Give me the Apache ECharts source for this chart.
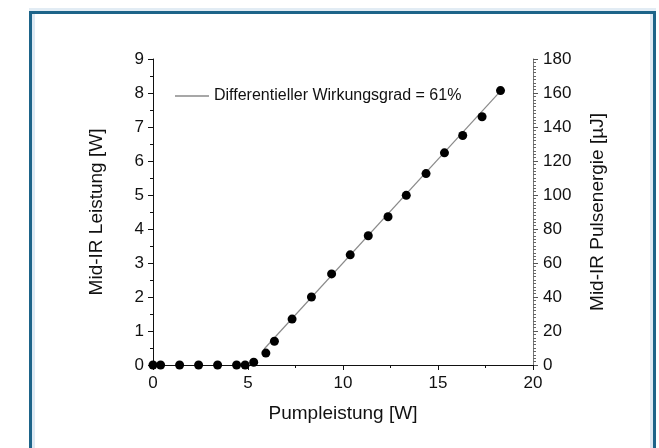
<!DOCTYPE html>
<html>
<head>
<meta charset="utf-8">
<script src="https://cdn.jsdelivr.net/npm/echarts@6/dist/echarts.min.js"></script>
<style>html,body{margin:0;padding:0;background:#fff;}#c{width:659px;height:448px;}</style>
</head>
<body>
<div id="c"></div>
<script>
// Measured data: Pumpleistung [W] vs Mid-IR Leistung [W]
var pumpW = [0.0, 0.4, 1.4, 2.4, 3.4, 4.4, 4.85, 5.3, 5.94, 6.39, 7.32, 8.34, 9.40, 10.38, 11.33, 12.37, 13.33, 14.37, 15.34, 16.30, 17.32, 18.29];
var midIrW = [0.0, 0.0, 0.0, 0.0, 0.0, 0.0, 0.0, 0.08, 0.35, 0.70, 1.35, 2.0, 2.68, 3.24, 3.80, 4.36, 4.99, 5.63, 6.24, 6.75, 7.30, 8.07];
// Linear fit (differential efficiency 61%) endpoints
var fitX = [5.85, 18.3];
var fitY = [0.47, 8.06];
var legendName = 'Differentieller Wirkungsgrad = 61%';
var xTitle = 'Pumpleistung [W]';
var yLeftTitle = 'Mid-IR Leistung [W]';
var yRightTitle = 'Mid-IR Pulsenergie [\u00b5J]';

var font = "'Liberation Sans', Arial, sans-serif";
var chart = echarts.init(document.getElementById('c'), null, {renderer: 'canvas'});
var scatterData = pumpW.map(function (x, i) { return [x, midIrW[i]]; });
var fitData = fitX.map(function (x, i) { return [x, fitY[i]]; });

chart.setOption({
  animation: false,
  backgroundColor: '#fff',
  graphic: [
    {type: 'rect', z: -10, shape: {x: 29, y: 8, width: 627, height: 440}, style: {fill: '#e2ecf4'}},
    {type: 'rect', z: -9, shape: {x: 29, y: 11, width: 627, height: 437}, style: {fill: '#1d6489'}},
    {type: 'rect', z: -8, shape: {x: 32, y: 14, width: 621, height: 434}, style: {fill: '#dde9f3'}},
    {type: 'rect', z: -7, shape: {x: 35, y: 14, width: 615, height: 434}, style: {fill: '#ffffff'}}
  ],
  grid: {left: 153, top: 59, width: 380, height: 306},
  legend: {
    left: 175, top: 88, padding: 0,
    data: [legendName],
    icon: 'rect', itemWidth: 34, itemHeight: 1.5,
    textStyle: {fontFamily: font, fontSize: 16, color: '#111'}
  },
  xAxis: {
    type: 'value', min: 0, max: 20, interval: 5,
    name: xTitle, nameLocation: 'middle', nameGap: 39,
    nameTextStyle: {fontFamily: font, fontSize: 19, color: '#111'},
    axisLine: {show: true, lineStyle: {color: '#111', width: 1}},
    axisTick: {show: true, inside: false, length: 5, lineStyle: {color: '#111'}},
    minorTick: {show: true, splitNumber: 2, length: 3, lineStyle: {color: '#111'}},
    axisLabel: {fontFamily: font, fontSize: 17, color: '#111', margin: 10},
    splitLine: {show: false}
  },
  yAxis: [
    {
      type: 'value', min: 0, max: 9, interval: 1, position: 'left',
      name: yLeftTitle, nameLocation: 'middle', nameGap: 47,
      nameTextStyle: {fontFamily: font, fontSize: 19, color: '#111'},
      axisLine: {show: true, lineStyle: {color: '#111', width: 1}},
      axisTick: {show: true, inside: false, length: 5, lineStyle: {color: '#111'}},
      minorTick: {show: true, splitNumber: 2, length: 3, lineStyle: {color: '#111'}},
      axisLabel: {fontFamily: font, fontSize: 17, color: '#111', margin: 9},
      splitLine: {show: false}
    },
    {
      type: 'value', min: 0, max: 180, interval: 20, position: 'right',
      name: yRightTitle, nameLocation: 'middle', nameGap: 55,
      nameTextStyle: {fontFamily: font, fontSize: 19, color: '#111'},
      axisLine: {show: true, lineStyle: {color: '#777', width: 1}},
      axisTick: {show: true, inside: false, length: 5, lineStyle: {color: '#555'}},
      minorTick: {show: true, splitNumber: 10, length: 3, lineStyle: {color: '#666'}},
      axisLabel: {fontFamily: font, fontSize: 17, color: '#111', margin: 10},
      splitLine: {show: false}
    }
  ],
  series: [
    {
      name: legendName, type: 'line', yAxisIndex: 0, data: fitData,
      symbol: 'none', showSymbol: false,
      lineStyle: {color: '#8a8a8a', width: 1.2},
      itemStyle: {color: '#8a8a8a'}, z: 2
    },
    {
      name: 'Messung', type: 'scatter', yAxisIndex: 0, data: scatterData,
      symbol: 'circle', symbolSize: 9,
      itemStyle: {color: '#000', opacity: 1}, z: 3
    }
  ]
});
</script>
</body>
</html>
